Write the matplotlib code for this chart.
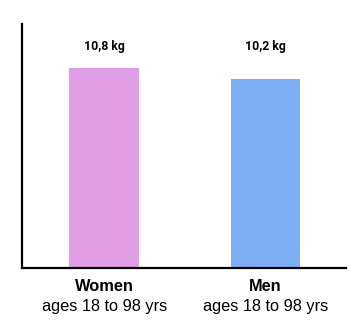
import matplotlib
matplotlib.use("Agg")
from matplotlib import pyplot as plt

# grip strength by sex
groups = ["Women", "Men"]
subtitles = ["ages 18 to 98 yrs", "ages 18 to 98 yrs"]
strength_kg = [10.8, 10.2]
value_labels = ["10,8 kg", "10,2 kg"]
colors = ["#e09ce4", "#7eaff5"]

fig = plt.figure(figsize=(3.64, 3.35), dpi=100)
ax = fig.add_axes([0.06, 0.2, 0.891, 0.728])

x = list(range(len(groups)))
ax.bar(x, strength_kg, width=0.433, color=colors)

ax.set_xlim(-0.51, 1.5)
ax.set_ylim(0, 13.18)

for s in ["top", "right"]:
    ax.spines[s].set_visible(False)
for s in ["left", "bottom"]:
    ax.spines[s].set_linewidth(1.6)
    ax.spines[s].set_color("black")
ax.set_xticks([])
ax.set_yticks([])

tr = ax.get_xaxis_transform()
for i in x:
    ax.text(i, 0.893, value_labels[i], transform=tr, ha="center", va="baseline",
            fontsize=8.8, fontweight="bold", family="Roboto")
    ax.text(i, -0.094, groups[i], transform=tr, ha="center", va="baseline",
            fontsize=11.8, fontweight="bold", family="Liberation Sans")
    ax.text(i, -0.176, subtitles[i], transform=tr, ha="center", va="baseline",
            fontsize=11.8, family="Liberation Sans")

fig.savefig("out.png", dpi=100)
